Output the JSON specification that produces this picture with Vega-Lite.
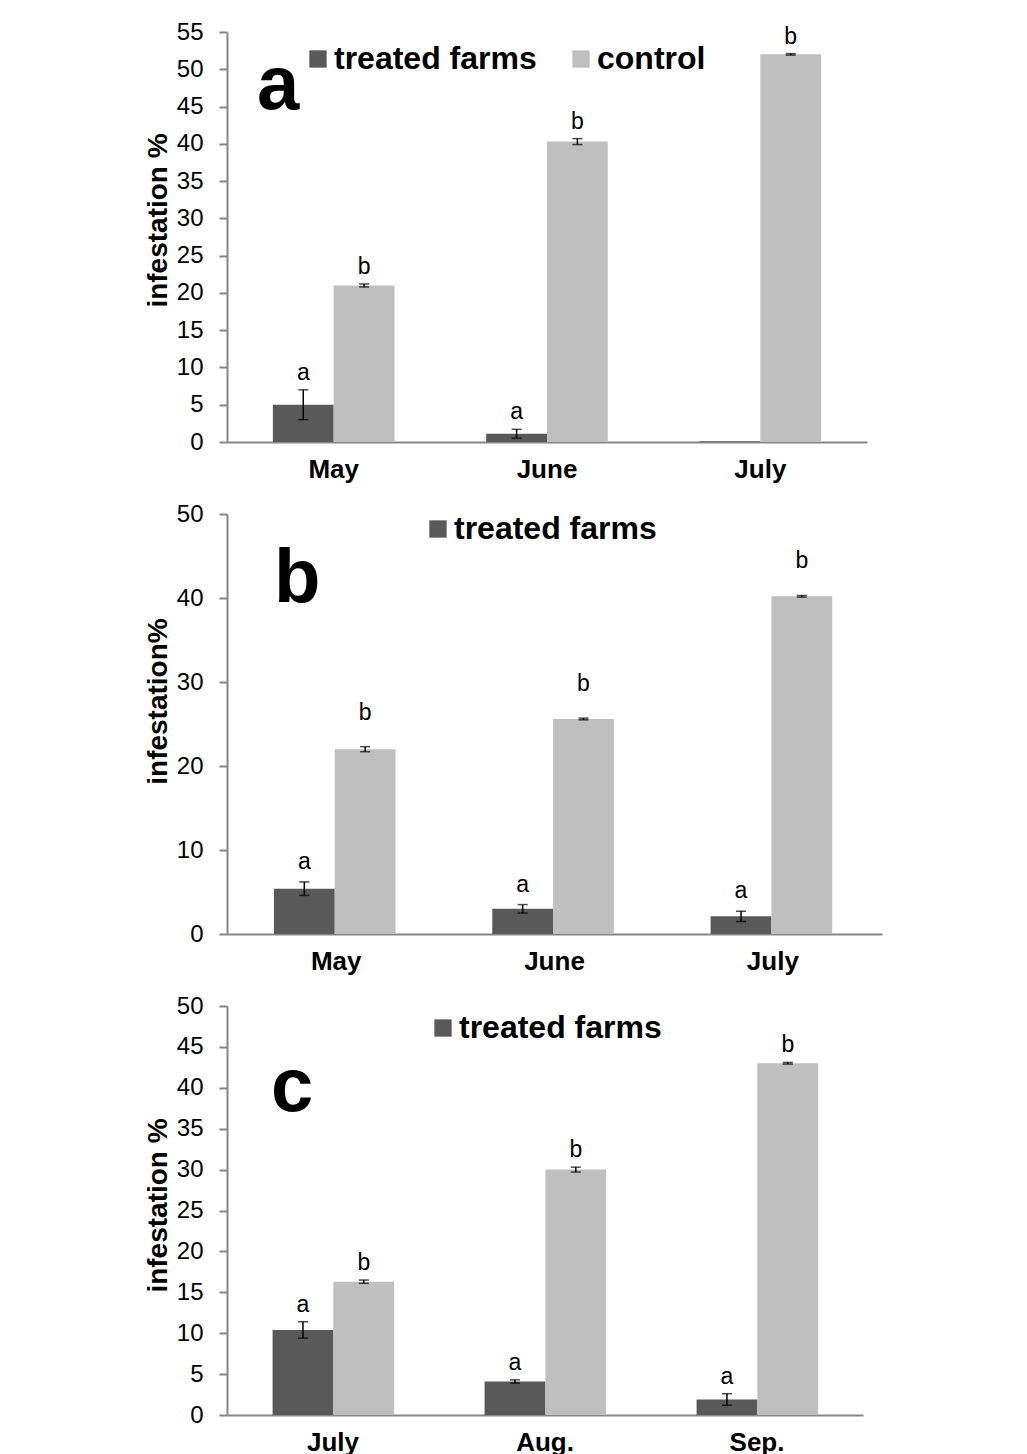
{
  "$schema": "https://vega.github.io/schema/vega-lite/v6.json",
  "background": "white",
  "padding": {"left": 144, "top": 20, "right": 10, "bottom": 0},
  "spacing": 20,
  "config": {
    "font": "Liberation Sans",
    "view": {"stroke": null},
    "axis": {"grid": false, "domainColor": "#868686", "domainWidth": 2, "tickColor": "#868686", "tickWidth": 2, "labelColor": "black", "titleColor": "black", "labelFont": "Liberation Sans", "titleFont": "Liberation Sans"},
    "axisY": {"tickSize": 8, "labelPadding": 16, "labelFontSize": 24, "titleFontSize": 28, "titleFontWeight": "bold", "titlePadding": 4},
    "axisX": {"ticks": false, "labelAngle": 0, "labelFontSize": 26, "labelFontWeight": "bold", "labelPadding": 14},
    "legend": {"orient": "none", "direction": "horizontal", "symbolType": "square", "symbolSize": 300, "symbolStrokeWidth": 0, "labelFontSize": 32, "labelFontWeight": "bold", "labelColor": "black", "labelFont": "Liberation Sans", "labelOffset": 0, "labelLimit": 0, "columnPadding": 28},
    "title": {"anchor": "start", "frame": "group", "fontSize": 76, "fontWeight": "bold", "baseline": "alphabetic", "color": "black", "font": "Liberation Sans"}
  },
  "resolve": {"scale": {"x": "independent", "y": "independent", "color": "independent"}, "legend": {"color": "independent"}},
  "vconcat": [
    {
      "width": 640, "height": 410,
      "title": {"text": "a", "offset": -105, "dx": 30},
      "data": {"values": [
        {"month": "May", "group": "treated farms", "value": 5.0, "lo": 3.0, "hi": 7.0, "letter": "a"},
        {"month": "May", "group": "control", "value": 21.0, "lo": 20.8, "hi": 21.2, "letter": "b"},
        {"month": "June", "group": "treated farms", "value": 1.1, "lo": 0.5, "hi": 1.7, "letter": "a"},
        {"month": "June", "group": "control", "value": 40.3, "lo": 39.9, "hi": 40.7, "letter": "b"},
        {"month": "July", "group": "treated farms", "value": 0.1, "lo": null, "hi": null, "letter": ""},
        {"month": "July", "group": "control", "value": 52.0, "lo": 51.9, "hi": 52.1, "letter": "b"}
      ]},
      "encoding": {
        "x": {"field": "month", "type": "nominal", "sort": ["May", "June", "July"], "scale": {"paddingInner": 0.43, "paddingOuter": 0.215}, "axis": {"title": null}},
        "xOffset": {"field": "group", "type": "nominal", "sort": ["treated farms", "control"], "scale": {"paddingInner": 0, "paddingOuter": 0}}
      },
      "layer": [
        {"mark": {"type": "bar"}, "encoding": {
          "y": {"field": "value", "type": "quantitative", "title": "infestation %", "scale": {"domain": [0, 55]}, "axis": {"values": [0, 5, 10, 15, 20, 25, 30, 35, 40, 45, 50, 55], "titleY": 188}},
          "color": {"field": "group", "type": "nominal", "scale": {"domain": ["treated farms", "control"], "range": ["#595959", "#bfbfbf"]}, "legend": {"title": null, "legendX": 75, "legendY": 11}}
        }},
        {"mark": {"type": "rule", "color": "black", "strokeWidth": 1.5}, "encoding": {"y": {"field": "lo", "type": "quantitative", "title": "infestation %", "axis": {"values": [0, 5, 10, 15, 20, 25, 30, 35, 40, 45, 50, 55], "titleY": 188}}, "y2": {"field": "hi"}}},
        {"mark": {"type": "tick", "orient": "horizontal", "color": "black", "size": 10, "thickness": 1.5}, "encoding": {"y": {"field": "lo", "type": "quantitative", "title": "infestation %", "axis": {"values": [0, 5, 10, 15, 20, 25, 30, 35, 40, 45, 50, 55], "titleY": 188}}}},
        {"mark": {"type": "tick", "orient": "horizontal", "color": "black", "size": 10, "thickness": 1.5}, "encoding": {"y": {"field": "hi", "type": "quantitative", "title": "infestation %", "axis": {"values": [0, 5, 10, 15, 20, 25, 30, 35, 40, 45, 50, 55], "titleY": 188}}}},
        {"mark": {"type": "text", "baseline": "bottom", "dy": -5, "fontSize": 23, "color": "black"}, "encoding": {"y": {"field": "hi", "type": "quantitative", "title": "infestation %", "axis": {"values": [0, 5, 10, 15, 20, 25, 30, 35, 40, 45, 50, 55], "titleY": 188}}, "text": {"field": "letter"}}}
      ]
    },
    {
      "width": 655, "height": 420,
      "title": {"text": "b", "offset": -116, "dx": 47},
      "data": {"values": [
        {"month": "May", "group": "treated farms", "value": 5.4, "lo": 4.6, "hi": 6.2, "letter": "a"},
        {"month": "May", "group": "control", "value": 22.0, "lo": 21.7, "hi": 22.3, "letter": "b"},
        {"month": "June", "group": "treated farms", "value": 3.0, "lo": 2.5, "hi": 3.5, "letter": "a"},
        {"month": "June", "group": "control", "value": 25.6, "lo": 25.5, "hi": 25.7, "letter": "b"},
        {"month": "July", "group": "treated farms", "value": 2.1, "lo": 1.5, "hi": 2.7, "letter": "a"},
        {"month": "July", "group": "control", "value": 40.2, "lo": 40.1, "hi": 40.3, "letter": "b"}
      ]},
      "encoding": {
        "x": {"field": "month", "type": "nominal", "sort": ["May", "June", "July"], "scale": {"paddingInner": 0.43, "paddingOuter": 0.215}, "axis": {"title": null}},
        "xOffset": {"field": "group", "type": "nominal", "sort": ["treated farms", "control"], "scale": {"paddingInner": 0, "paddingOuter": 0}}
      },
      "layer": [
        {"mark": {"type": "bar"}, "encoding": {
          "y": {"field": "value", "type": "quantitative", "title": "infestation%", "scale": {"domain": [0, 50]}, "axis": {"values": [0, 10, 20, 30, 40, 50], "titleY": 187}},
          "color": {"field": "group", "type": "nominal", "scale": {"domain": ["treated farms", "control"], "range": ["#595959", "#bfbfbf"]}, "legend": {"title": null, "values": ["treated farms"], "legendX": 195, "legendY": -1}}
        }},
        {"mark": {"type": "rule", "color": "black", "strokeWidth": 1.5}, "encoding": {"y": {"field": "lo", "type": "quantitative", "title": "infestation%", "axis": {"values": [0, 10, 20, 30, 40, 50], "titleY": 187}}, "y2": {"field": "hi"}}},
        {"mark": {"type": "tick", "orient": "horizontal", "color": "black", "size": 10, "thickness": 1.5}, "encoding": {"y": {"field": "lo", "type": "quantitative", "title": "infestation%", "axis": {"values": [0, 10, 20, 30, 40, 50], "titleY": 187}}}},
        {"mark": {"type": "tick", "orient": "horizontal", "color": "black", "size": 10, "thickness": 1.5}, "encoding": {"y": {"field": "hi", "type": "quantitative", "title": "infestation%", "axis": {"values": [0, 10, 20, 30, 40, 50], "titleY": 187}}}},
        {"transform": [{"filter": "datum.group === 'treated farms'"}], "mark": {"type": "text", "baseline": "bottom", "dy": -8, "fontSize": 23, "color": "black"}, "encoding": {"y": {"field": "hi", "type": "quantitative", "title": "infestation%", "axis": {"values": [0, 10, 20, 30, 40, 50], "titleY": 187}}, "text": {"field": "letter"}}},
        {"transform": [{"filter": "datum.group === 'control'"}], "mark": {"type": "text", "baseline": "bottom", "dy": -22, "fontSize": 23, "color": "black"}, "encoding": {"y": {"field": "hi", "type": "quantitative", "title": "infestation%", "axis": {"values": [0, 10, 20, 30, 40, 50], "titleY": 187}}, "text": {"field": "letter"}}}
      ]
    },
    {
      "width": 636, "height": 409,
      "title": {"text": "c", "offset": -133, "dx": 44},
      "data": {"values": [
        {"month": "July", "group": "treated farms", "value": 10.4, "lo": 9.4, "hi": 11.4, "letter": "a"},
        {"month": "July", "group": "control", "value": 16.3, "lo": 16.1, "hi": 16.5, "letter": "b"},
        {"month": "Aug.", "group": "treated farms", "value": 4.1, "lo": 3.9, "hi": 4.3, "letter": "a"},
        {"month": "Aug.", "group": "control", "value": 30.0, "lo": 29.7, "hi": 30.3, "letter": "b"},
        {"month": "Sep.", "group": "treated farms", "value": 1.9, "lo": 1.2, "hi": 2.6, "letter": "a"},
        {"month": "Sep.", "group": "control", "value": 43.0, "lo": 42.9, "hi": 43.1, "letter": "b"}
      ]},
      "encoding": {
        "x": {"field": "month", "type": "nominal", "sort": ["July", "Aug.", "Sep."], "scale": {"paddingInner": 0.43, "paddingOuter": 0.215}, "axis": {"title": null}},
        "xOffset": {"field": "group", "type": "nominal", "sort": ["treated farms", "control"], "scale": {"paddingInner": 0, "paddingOuter": 0}}
      },
      "layer": [
        {"mark": {"type": "bar"}, "encoding": {
          "y": {"field": "value", "type": "quantitative", "title": "infestation %", "scale": {"domain": [0, 50]}, "axis": {"values": [0, 5, 10, 15, 20, 25, 30, 35, 40, 45, 50], "titleY": 199}},
          "color": {"field": "group", "type": "nominal", "scale": {"domain": ["treated farms", "control"], "range": ["#595959", "#bfbfbf"]}, "legend": {"title": null, "values": ["treated farms"], "legendX": 200, "legendY": 6}}
        }},
        {"mark": {"type": "rule", "color": "black", "strokeWidth": 1.5}, "encoding": {"y": {"field": "lo", "type": "quantitative", "title": "infestation %", "axis": {"values": [0, 5, 10, 15, 20, 25, 30, 35, 40, 45, 50], "titleY": 199}}, "y2": {"field": "hi"}}},
        {"mark": {"type": "tick", "orient": "horizontal", "color": "black", "size": 10, "thickness": 1.5}, "encoding": {"y": {"field": "lo", "type": "quantitative", "title": "infestation %", "axis": {"values": [0, 5, 10, 15, 20, 25, 30, 35, 40, 45, 50], "titleY": 199}}}},
        {"mark": {"type": "tick", "orient": "horizontal", "color": "black", "size": 10, "thickness": 1.5}, "encoding": {"y": {"field": "hi", "type": "quantitative", "title": "infestation %", "axis": {"values": [0, 5, 10, 15, 20, 25, 30, 35, 40, 45, 50], "titleY": 199}}}},
        {"mark": {"type": "text", "baseline": "bottom", "dy": -5, "fontSize": 23, "color": "black"}, "encoding": {"y": {"field": "hi", "type": "quantitative", "title": "infestation %", "axis": {"values": [0, 5, 10, 15, 20, 25, 30, 35, 40, 45, 50], "titleY": 199}}, "text": {"field": "letter"}}}
      ]
    }
  ]
}
